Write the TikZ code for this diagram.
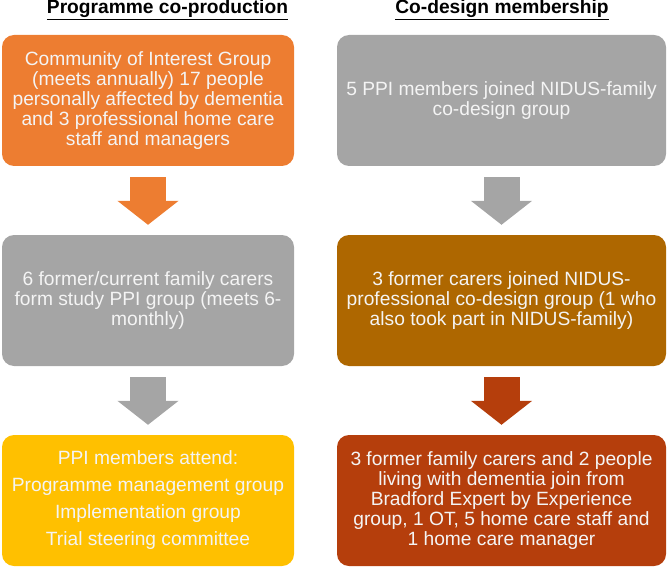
\documentclass[tikz,border=0pt]{standalone}
\usepackage{fontspec}
\setmainfont{Liberation Sans}
\usetikzlibrary{arrows.meta}
\definecolor{ppiorange}{HTML}{ED7D31}
\definecolor{ppigrey}{HTML}{A5A5A5}
\definecolor{ppiyellow}{HTML}{FFC000}
\definecolor{ppibrown}{HTML}{AE6700}
\definecolor{ppirust}{HTML}{B53E0C}
\definecolor{boxtext}{HTML}{F4F4F4}
\tikzset{
  stage/.style={rectangle, rounded corners=12pt, minimum height=131pt, inner sep=0pt,
    align=center, text=boxtext, font=\fontsize{19.2}{20}\selectfont},
  leftstage/.style={stage, minimum width=292pt},
  rightstage/.style={stage, minimum width=329pt},
  heading/.style={font=\fontsize{19.2}{20}\selectfont\bfseries, inner sep=0pt},
  blockarrow/.style={line width=36pt, -{Triangle[length=24pt,width=60pt]},
    shorten <=11pt, shorten >=10pt}
}
\begin{document}
\begin{tikzpicture}[x=1pt, y=-1pt]
\useasboundingbox (0,0) rectangle (668,569);
% column headings
\node[heading] (progtitle)   at (167.5,10) {\underline{Programme co-production}};
\node[heading] (designtitle) at (502,10)   {\underline{Co-design membership}};
% programme co-production column
\node[leftstage, fill=ppiorange] (interest) at (148,100.5)
  {Community of Interest Group\\(meets annually) 17 people\\personally affected by dementia\\and 3 professional home care\\staff and managers};
\node[leftstage, fill=ppigrey] (ppigroup) at (148,300.5)
  {6 former/current family carers\\form study PPI group (meets 6-\\monthly)};
\node[leftstage, fill=ppiyellow] (attend) at (148,500.5)
  {PPI members attend:\\[7pt]Programme management group\\[7pt]Implementation group\\[7pt]Trial steering committee};
% co-design membership column
\node[rightstage, fill=ppigrey] (family) at (501.5,100.5)
  {5 PPI members joined NIDUS-family\\co-design group};
\node[rightstage, fill=ppibrown] (professional) at (501.5,300.5)
  {3 former carers joined NIDUS-\\professional co-design group (1 who\\also took part in NIDUS-family)};
\node[rightstage, fill=ppirust] (bradford) at (501.5,500.5)
  {3 former family carers and 2 people\\living with dementia join from\\Bradford Expert by Experience\\group, 1 OT, 5 home care staff and\\1 home care manager};
% block arrows
\draw[blockarrow, ppiorange] (interest.south) -- (ppigroup.north);
\draw[blockarrow, ppigrey]   (ppigroup.south) -- (attend.north);
\draw[blockarrow, ppigrey]   (family.south)   -- (professional.north);
\draw[blockarrow, ppirust]   (professional.south) -- (bradford.north);
\end{tikzpicture}
\end{document}
